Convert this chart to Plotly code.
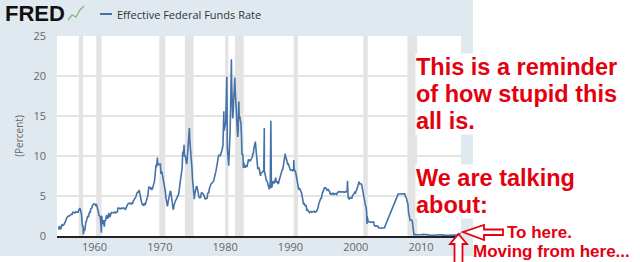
import pandas as pd
import plotly.graph_objects as go

# ---------------- data ----------------
rate_1954_1959 = [0.80,1.22,1.06,0.85,0.83,1.28,
    1.39,1.29,1.35,1.43,1.43,1.64,1.68,1.96,2.18,2.24,2.35,2.48,
    2.45,2.50,2.50,2.62,2.75,2.71,2.75,2.73,2.95,2.96,2.88,2.94,
    2.84,3.00,2.96,3.00,3.00,3.00,2.99,3.24,3.47,3.50,3.28,2.98,
    2.72,1.67,1.20,1.26,0.63,0.93,0.68,1.53,1.76,1.80,2.27,2.42,
    2.48,2.43,2.80,2.96,2.90,3.39,3.47,3.50,3.76,3.98,4.00,3.99]
rate_1960s = [3.99,3.97,3.84,3.92,3.85,3.32,3.23,2.98,2.60,2.47,2.44,1.98,
    1.45,2.54,2.02,1.49,1.98,1.73,1.17,2.00,1.88,2.26,2.61,2.33,
    2.15,2.37,2.85,2.78,2.36,2.68,2.71,2.93,2.90,2.90,2.94,2.93,
    2.92,3.00,2.98,2.90,3.00,2.99,3.02,3.49,3.48,3.50,3.48,3.38,
    3.48,3.48,3.43,3.47,3.50,3.50,3.42,3.50,3.45,3.36,3.52,3.85,
    3.90,3.98,4.04,4.09,4.10,4.04,4.09,4.12,4.01,4.08,4.10,4.32,
    4.42,4.60,4.65,4.67,4.90,5.17,5.30,5.53,5.40,5.53,5.76,5.40,
    4.94,5.00,4.53,4.05,3.94,3.98,3.79,3.90,3.99,3.88,4.13,4.51,
    4.61,4.71,5.05,5.76,6.11,6.07,6.02,6.03,5.78,5.91,5.82,6.02,
    6.30,6.61,6.79,7.41,8.67,8.90,8.61,9.19,9.15,9.00,8.85,8.97]
rate_1970s = [8.98,8.98,7.76,8.10,7.95,7.61,7.21,6.61,6.29,6.20,5.60,4.90,
    4.14,3.72,3.71,4.16,4.63,4.91,5.31,5.57,5.55,5.20,4.91,4.14,
    3.50,3.29,3.83,4.17,4.27,4.46,4.55,4.80,4.87,5.04,5.06,5.33,
    5.94,6.58,7.09,7.12,7.84,8.49,10.40,10.50,10.78,10.01,10.03,9.95,
    9.65,8.97,9.35,10.51,11.31,11.93,12.92,12.01,11.34,10.06,9.45,8.53,
    7.13,6.24,5.54,5.49,5.22,5.55,6.10,6.14,6.24,5.82,5.22,5.20,
    4.87,4.77,4.84,4.82,5.29,5.48,5.31,5.29,5.25,5.03,4.95,4.65,
    4.61,4.68,4.69,4.73,5.35,5.39,5.42,5.90,6.14,6.47,6.51,6.56,
    6.70,6.78,6.79,6.89,7.36,7.60,7.81,8.04,8.45,8.96,9.76,10.03,
    10.07,10.06,10.09,10.01,10.24,10.29,10.47,10.94,11.43,13.77,13.18,13.78]
rate_1980s = [13.82,14.13,17.19,17.61,10.98,9.47,9.03,9.61,10.87,12.81,15.85,18.90,
    19.08,15.93,14.70,15.72,18.52,19.10,19.04,17.82,15.87,15.08,13.31,12.37,
    13.22,14.78,14.68,14.94,14.45,14.15,12.59,10.12,10.31,9.71,9.20,8.95,
    8.68,8.51,8.77,8.80,8.63,8.98,9.37,9.56,9.45,9.48,9.34,9.47,
    9.56,9.59,9.91,10.29,10.32,11.06,11.23,11.64,11.30,9.99,9.43,8.38,
    8.35,8.50,8.58,8.27,7.97,7.53,7.88,7.90,7.92,7.99,8.05,8.27,
    8.14,7.86,7.48,6.99,6.85,6.92,6.56,6.17,5.89,5.85,6.04,6.91,
    6.43,6.10,6.13,6.37,6.85,6.73,6.58,6.73,7.22,7.29,6.69,6.77,
    6.83,6.58,6.58,6.87,7.09,7.51,7.75,8.01,8.19,8.30,8.35,8.76,
    9.12,9.36,9.85,9.84,9.81,9.53,9.24,8.99,9.02,8.84,8.55,8.45]
rate_1990s = [8.23,8.24,8.28,8.26,8.18,8.29,8.15,8.13,8.20,8.11,7.81,7.31,
    6.91,6.25,6.12,5.91,5.78,5.90,5.82,5.66,5.45,5.21,4.81,4.43,
    4.03,4.06,3.98,3.73,3.82,3.76,3.25,3.30,3.22,3.10,3.09,2.92,
    3.02,3.03,3.07,2.96,3.00,3.04,3.06,3.03,3.09,2.99,3.02,2.96,
    3.05,3.25,3.34,3.56,4.01,4.25,4.26,4.47,4.73,4.76,5.29,5.45,
    5.53,5.92,5.98,6.05,6.01,6.00,5.85,5.74,5.80,5.76,5.80,5.60,
    5.56,5.22,5.31,5.22,5.24,5.27,5.40,5.22,5.30,5.24,5.31,5.29,
    5.25,5.19,5.39,5.51,5.50,5.56,5.52,5.54,5.54,5.50,5.52,5.50,
    5.56,5.51,5.49,5.45,5.49,5.56,5.54,5.55,5.51,5.07,4.83,4.68,
    4.63,4.76,4.81,4.74,4.74,4.76,4.99,5.07,5.22,5.20,5.42,5.30]
rate_2000s = [5.45,5.73,5.85,6.02,6.27,6.53,6.54,6.50,6.52,6.51,6.51,6.40,
    5.98,5.49,5.31,4.80,4.21,3.97,3.77,3.65,3.07,2.49,2.09,1.82,
    1.73,1.74,1.73,1.75,1.75,1.75,1.73,1.74,1.75,1.75,1.34,1.24,
    1.24,1.26,1.25,1.26,1.26,1.22,1.01,1.03,1.01,1.01,1.00,0.98,
    1.00,1.01,1.00,1.00,1.00,1.03,1.26,1.43,1.61,1.76,1.93,2.16,
    2.28,2.50,2.63,2.79,3.00,3.04,3.26,3.50,3.62,3.78,4.00,4.16,
    4.29,4.49,4.59,4.79,4.94,4.99,5.24,5.25,5.25,5.25,5.25,5.24,
    5.25,5.26,5.26,5.25,5.25,5.25,5.26,5.02,4.94,4.76,4.49,4.24,
    3.94,2.98,2.61,2.28,1.98,2.00,2.01,2.00,1.81,0.97,0.39,0.16,
    0.15,0.22,0.18,0.15,0.18,0.21,0.16,0.16,0.15,0.12,0.12,0.12]
rate_2010s = [0.11,0.13,0.16,0.20,0.20,0.18,0.18,0.19,0.19,0.19,0.19,0.18,
    0.17,0.16,0.14,0.10,0.09,0.09,0.07,0.10,0.08,0.07,0.08,0.07,
    0.08,0.10,0.13,0.14,0.16,0.16,0.16,0.13,0.14,0.16,0.16,0.16,
    0.14,0.15,0.14,0.15,0.11,0.09,0.09,0.08,0.08,0.09,0.08,0.09,
    0.07,0.07,0.08,0.09,0.09,0.10,0.09,0.09,0.09,0.09,0.09,0.12,
    0.11,0.11,0.11,0.12,0.12,0.13,0.13,0.14,0.14,0.12,0.12,0.24,
    0.34,0.38]

# daily spikes visible in the chart
spike_dates = ["1958-04-15","1961-01-20","1969-08-20","1973-09-15","1974-07-10",
               "1975-04-15","1979-10-20","1980-04-05","1980-07-20","1980-12-15",
               "1981-06-20","1982-02-01","1982-10-15","1984-08-15","1985-12-31",
               "1986-12-31","1989-03-15","1990-07-02","1998-09-30","2000-07-03",
               "2001-09-19"]
spike_values = [0.2,0.4,9.8,11.4,13.5,
                4.6,15.6,19.9,8.8,22.1,
                19.8,16.8,8.5,11.8,13.5,
                14.4,10.3,9.5,6.9,6.8,
                1.5]

recession_start = ["1957-08-01","1960-04-01","1969-12-01","1973-11-01","1980-01-01",
                   "1981-07-01","1990-07-01","2001-03-01","2007-12-01"]
recession_end = ["1958-04-01","1961-02-01","1970-11-01","1975-03-01","1980-07-01",
                 "1982-11-01","1991-03-01","2001-11-01","2009-06-01"]

x_ticks = ["1960","1970","1980","1990","2000","2010"]
y_ticks = [0, 5, 10, 15, 20, 25]

series_name = "Effective Federal Funds Rate"
y_title = "(Percent)"
note_lines = ["This is a reminder", "of how stupid this", "all is.",
              "We are talking", "about:"]
arrow_to_text = "To here."
arrow_from_text = "Moving from here..."

# ---------------- build series ----------------
values = (rate_1954_1959 + rate_1960s + rate_1970s + rate_1980s +
          rate_1990s + rate_2000s + rate_2010s)
dates = pd.date_range("1954-07-01", periods=len(values), freq="MS")
s = pd.Series(values, index=dates)
spk = pd.Series(spike_values, index=pd.to_datetime(spike_dates))
s = pd.concat([s, spk]).sort_index()

# ---------------- layout helpers ----------------
W, H = 640, 262
PL, PR, PT, PB = 57, 461, 36, 236


def X(px):
    return (px - PL) / (PR - PL)


def Y(py):
    return (PB - py) / (PB - PT)


RED = "#e3000f"
BLUE = "#4572a7"

fig = go.Figure()
fig.add_trace(go.Scatter(x=s.index, y=s.values, mode="lines", name=series_name,
                         line=dict(color=BLUE, width=1.6), showlegend=False))

shapes = []
# FRED grey panel and white plotting area
shapes.append(dict(type="rect", xref="paper", yref="paper", x0=X(0), x1=X(473),
                   y0=Y(256), y1=Y(0), fillcolor="#e1e9f0", line_width=0, layer="below"))
shapes.append(dict(type="rect", xref="paper", yref="paper", x0=X(PL), x1=X(PR),
                   y0=Y(PB), y1=Y(PT), fillcolor="white", line_width=0, layer="below"))
for a, b in zip(recession_start, recession_end):
    shapes.append(dict(type="rect", xref="x", yref="paper", x0=a, x1=b, y0=0, y1=1,
                       fillcolor="#e3e3e3", line_width=0, layer="below"))
# legend line
shapes.append(dict(type="line", xref="paper", yref="paper", x0=X(100), x1=X(112),
                   y0=Y(14), y1=Y(14), line=dict(color=BLUE, width=2)))
# FRED mini-graph icon
shapes.append(dict(type="path", xref="paper", yref="paper",
                   path="M {} {} L {} {} L {} {} L {} {} L {} {}".format(
                       X(68), Y(20), X(72), Y(15), X(76), Y(17), X(80), Y(10), X(84), Y(6)),
                   line=dict(color="#7fb77e", width=1.3)))


def poly(pts):
    return "M " + " L ".join("{:.5f} {:.5f}".format(X(px), Y(py)) for px, py in pts) + " Z"


# left pointing outline arrow ("To here.")
left_arrow = [(463, 232), (484, 225), (484, 229.5), (503, 229.5), (503, 235),
              (484, 235), (484, 240)]
shapes.append(dict(type="path", xref="paper", yref="paper", path=poly(left_arrow),
                   fillcolor="white", line=dict(color=RED, width=1.8)))
# up pointing outline arrow ("Moving from here...")
up_arrow = [(458.5, 234), (467, 244), (462.5, 244), (462.5, 263), (454.5, 263),
            (454.5, 244), (450, 244)]
shapes.append(dict(type="path", xref="paper", yref="paper", path=poly(up_arrow),
                   fillcolor="white", line=dict(color=RED, width=1.8)))

annotations = []
annotations.append(dict(text="<b>FRED</b>", xref="paper", yref="paper", x=X(3), y=Y(14),
                        xanchor="left", yanchor="middle", showarrow=False,
                        font=dict(family="Liberation Sans", size=22, color="#111")))
annotations.append(dict(text=series_name, xref="paper", yref="paper", x=X(115), y=Y(14.5),
                        xanchor="left", yanchor="middle", showarrow=False,
                        font=dict(family="Open Sans", size=11, color="#333")))
note_base = [76, 103, 130, 187, 214]
for line, base in zip(note_lines, note_base):
    annotations.append(dict(text="<b>" + line + "</b>", xref="paper", yref="paper",
                            x=X(415), y=Y(base - 9.5), xanchor="left", yanchor="middle",
                            showarrow=False, bgcolor="white", borderpad=0,
                            font=dict(family="Liberation Sans", size=23.5, color=RED)))
annotations.append(dict(text="<b>" + arrow_to_text + "</b>", xref="paper", yref="paper",
                        x=X(505), y=Y(232), xanchor="left", yanchor="middle",
                        showarrow=False,
                        font=dict(family="Liberation Sans", size=17, color=RED)))
annotations.append(dict(text="<b>" + arrow_from_text + "</b>", xref="paper", yref="paper",
                        x=X(471), y=Y(251), xanchor="left", yanchor="middle",
                        showarrow=False,
                        font=dict(family="Liberation Sans", size=17, color=RED)))

fig.update_layout(
    width=W, height=H,
    margin=dict(l=PL, r=W - PR, t=PT, b=H - PB, pad=0, autoexpand=False),
    paper_bgcolor="white", plot_bgcolor="rgba(0,0,0,0)",
    shapes=shapes, annotations=annotations, showlegend=False,
    font=dict(family="Open Sans", size=11, color="#666"),
    xaxis=dict(type="date", range=["1954-04-01", "2016-02-15"], automargin=False,
               tickvals=[x + "-01-01" for x in x_ticks], ticktext=x_ticks,
               showgrid=False, zeroline=False, showline=True, linecolor="#222",
               linewidth=2, ticks="", ticklabelstandoff=0,
               tickfont=dict(family="Open Sans", size=11, color="#666")),
    yaxis=dict(range=[0, 25], tickvals=y_ticks, showgrid=True, gridcolor="#e4e4e4",
               gridwidth=1.5, zeroline=False, showline=False, ticks="", automargin=False,
               ticklabelstandoff=10,
               title=dict(text=y_title, standoff=7,
                          font=dict(family="Open Sans", size=10, color="#666")),
               tickfont=dict(family="Open Sans", size=11, color="#666")),
)

fig.write_html("out.html")
